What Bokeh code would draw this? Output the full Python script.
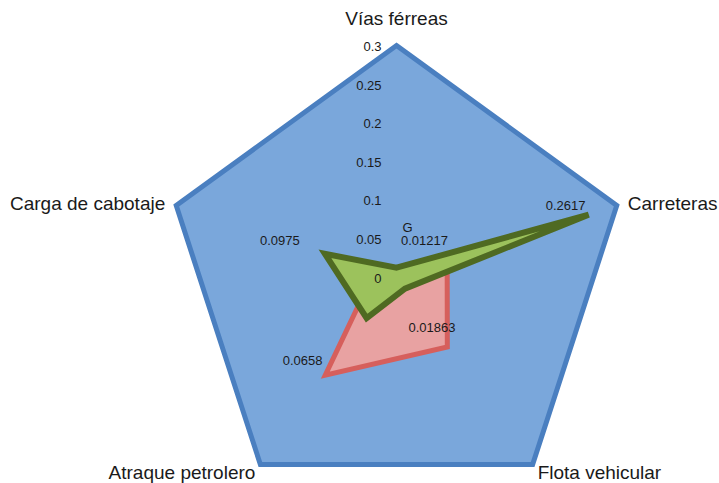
import numpy as np
from bokeh.plotting import figure
from bokeh.models import ColumnDataSource, Range1d
from bokeh.embed import file_html
from bokeh.resources import INLINE
from bokeh.core.properties import value

# --- data -------------------------------------------------------------
categories = ["Vías férreas", "Carreteras", "Flota vehicular",
              "Atraque petrolero", "Carga de cabotaje"]
serie_max = [0.3, 0.3, 0.3, 0.3, 0.3]
serie_r = [0.004, 0.069, 0.112, 0.157, 0.029]
serie_g = [0.01217, 0.2617, 0.01863, 0.0658, 0.0975]
serie_g_labels = ["0.01217", "0.2617", "0.01863", "0.0658", "0.0975"]
ticks = [0, 0.05, 0.1, 0.15, 0.2, 0.25, 0.3]
tick_labels = ["0", "0.05", "0.1", "0.15", "0.2", "0.25", "0.3"]
series_name = "G"

# --- layout -----------------------------------------------------------
W, H = 719, 483
CX, CY = 396.0, 276.6        # centre of the radar, in pixels from top-left
PX_PER_UNIT = 231.6 / 0.3

n = len(categories)
theta = np.pi / 2 - np.arange(n) * 2 * np.pi / n


def polar(vals):
    v = np.asarray(vals, dtype=float)
    return v * np.cos(theta), v * np.sin(theta)


p = figure(width=W, height=H, output_backend="svg", toolbar_location=None,
           x_range=Range1d(-CX / PX_PER_UNIT, (W - CX) / PX_PER_UNIT),
           y_range=Range1d(-(H - CY) / PX_PER_UNIT, CY / PX_PER_UNIT),
           min_border=0)
p.axis.visible = False
p.grid.visible = False
p.outline_line_color = None
p.background_fill_color = "white"
p.border_fill_color = "white"

FONT = value("Liberation Sans")

# outer series (full scale)
bx, by = polar(serie_max)
p.patch(list(bx), list(by), fill_color="#7aa7db", line_color="#4a7fc0",
        line_width=5, line_join="miter")

# red series
rx, ry = polar(serie_r)
p.patch(list(rx), list(ry), fill_color="#e8a2a2", line_color="#d65f5c",
        line_width=5, line_join="miter")

# green series
gx, gy = polar(serie_g)
p.patch(list(gx), list(gy), fill_color="#9cc25c", line_color="#4f6a22",
        line_width=6, line_join="miter")

# radial scale labels along the top axis
tsrc = ColumnDataSource(dict(x=[0.0] * len(ticks), y=ticks, t=tick_labels))
p.text(x="x", y="y", text="t", source=tsrc, text_font=FONT,
       text_font_size="13px", text_color="#1a1a1a", text_align="right",
       text_baseline="middle", x_offset=-15, y_offset=1)

# category labels around the outside
cx_, cy_ = polar(serie_max)
cat_align = ["center", "left", "left", "right", "right"]
cat_dx = [0, 11, 5, -5, -11]
cat_dy = [-27, -2, 8, 8, -2]
csrc = ColumnDataSource(dict(x=list(cx_), y=list(cy_), t=categories,
                             a=cat_align, dx=cat_dx, dy=cat_dy))
p.text(x="x", y="y", text="t", source=csrc, text_font=FONT,
       text_font_size="19px", text_color="#1a1a1a", text_align="a",
       text_baseline="middle", x_offset="dx", y_offset="dy")

# data labels of the green series
lab_dx = [28, -23, 27, -64, -45]
lab_dy = [-27, -9, 39, 42, -13]
lsrc = ColumnDataSource(dict(x=list(gx), y=list(gy), t=serie_g_labels,
                             dx=lab_dx, dy=lab_dy))
p.text(x="x", y="y", text="t", source=lsrc, text_font=FONT,
       text_font_size="13px", text_color="#1a1a1a", text_align="center",
       text_baseline="middle", x_offset="dx", y_offset="dy")

# series name above the first label
p.text(x=[gx[0]], y=[gy[0]], text=[series_name], text_font=FONT,
       text_font_size="13px", text_color="#1a1a1a", text_align="center",
       text_baseline="middle", x_offset=11, y_offset=-40)

open("out.html", "w").write(file_html(p, INLINE))
